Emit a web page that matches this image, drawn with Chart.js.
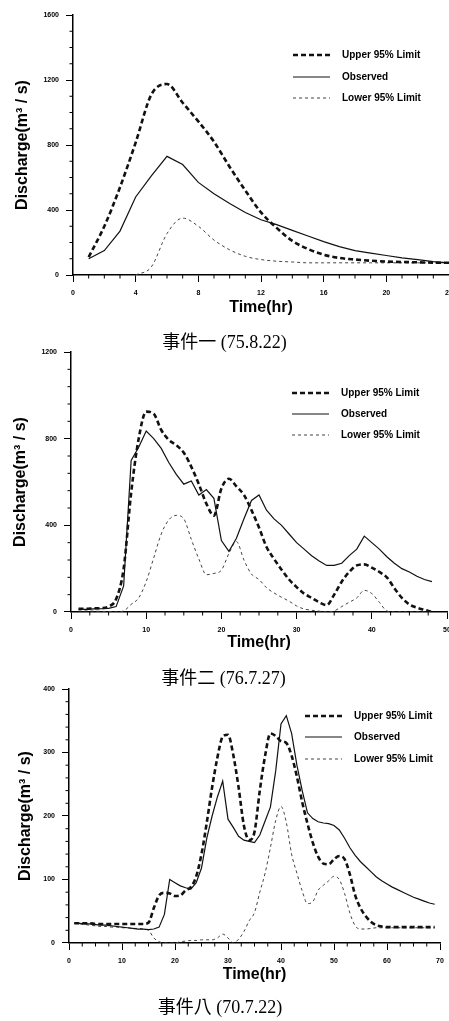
<!DOCTYPE html>
<html>
<head>
<meta charset="utf-8">
<script src="https://cdn.jsdelivr.net/npm/chart.js@4.4.0/dist/chart.umd.min.js"></script>
<style>
  html, body { margin: 0; padding: 0; background: #fff; width: 449px; height: 1021px; overflow: hidden; }
  canvas { position: absolute; left: 0; }
</style>
</head>
<body>
<canvas id="c1"></canvas>
<canvas id="c2"></canvas>
<canvas id="c3"></canvas>
<script>
// event 1 (75.8.22)
const hours1 = [1, 2, 3, 4, 5, 6, 7, 8, 9, 10, 11, 12, 13, 14, 15, 16, 17, 18, 19, 20, 21, 22, 23, 24];
const upper1 = [110, 300, 540, 815, 1110, 1175, 1060, 945, 820, 665, 520, 385, 290, 210, 160, 125, 105, 95, 88, 83, 80, 78, 76, 75];
const obs1 = [100, 150, 270, 480, 610, 730, 680, 570, 500, 440, 385, 340, 310, 275, 240, 205, 175, 150, 135, 120, 105, 95, 82, 75];
const lower1 = [null, null, null, 0, 50, 255, 350, 300, 215, 155, 115, 95, 85, 80, 75, 75, 75, 75, 75, 75, 75, 75, 75, 75];

// event 2 (76.7.27)
const hours2 = [1, 2, 3, 4, 5, 6, 7, 8, 9, 10, 11, 12, 13, 14, 15, 16, 17, 18, 19, 20, 21, 22, 23, 24,
  25, 26, 27, 28, 29, 30, 31, 32, 33, 34, 35, 36, 37, 38, 39, 40, 41, 42, 43, 44, 45, 46, 47, 48];
const upper2 = [15, 15, 17, 18, 25, 60, 200, 550, 800, 925, 915, 840, 795, 770, 735, 670, 590, 500, 445, 570, 615, 580, 540, 470,
  390, 300, 245, 195, 150, 115, 85, 65, 45, 32, 80, 140, 185, 215, 220, 205, 185, 160, 110, 65, 35, 20, 10, 0];
const obs2 = [12, 12, 14, 15, 17, 25, 120, 700, 760, 835, 800, 755, 690, 635, 590, 605, 540, 565, 525, 330, 280, 340, 430, 515,
  540, 470, 430, 400, 360, 320, 290, 260, 235, 215, 215, 225, 260, 290, 350, 320, 290, 255, 225, 200, 185, 165, 150, 140];
const lower2 = [5, 5, 4, 3, 2, 0, 5, 35, 65, 140, 250, 360, 425, 446, 430, 335, 245, 172, 178, 193, 270, 325, 240, 175,
  150, 112, 88, 68, 50, 28, 14, 8, 4, 0, 5, 25, 45, 65, 100, 85, 45, 5, 0, 0, 0, 0, 0, 0];

// event 8 (70.7.22)
const hours3 = [1, 2, 3, 4, 5, 6, 7, 8, 9, 10, 11, 12, 13, 14, 15, 16, 17, 18, 19, 20, 21, 22, 23, 24, 25, 26, 27, 28, 29, 30,
  31, 32, 33, 34, 35, 36, 37, 38, 39, 40, 41, 42, 43, 44, 45, 46, 47, 48, 49, 50, 51, 52, 53, 54, 55, 56, 57, 58, 59, 60,
  61, 62, 63, 64, 65, 66, 67, 68, 69];
const upper3 = [31, 31, 31, 31, 30, 30, 30, 30, 30, 30, 30, 30, 30, 30, 32, 55, 75, 79, 78, 74, 75, 83, 88, 105, 140, 190, 245, 292, 325, 328,
  296, 245, 185, 162, 175, 240, 295, 330, 326, 318, 315, 295, 262, 222, 188, 158, 136, 125, 124, 132, 137, 132, 108, 75, 55, 42, 33, 28, 26, 25,
  25, 25, 25, 25, 25, 25, 25, 25, 25];
const obs3 = [31, 31, 30, 30, 29, 28, 28, 27, 26, 25, 24, 23, 22, 22, 21, 22, 25, 45, 100, 95, 90, 87, 85, 95, 118, 165, 200, 230, 255, 195,
  182, 168, 162, 160, 158, 170, 192, 214, 271, 345, 358, 330, 280, 240, 205, 196, 191, 189, 188, 185, 178, 165, 150, 138, 128, 120, 112, 104, 98, 93,
  88, 84, 80, 76, 72, 69, 66, 63, 61];
const lower3 = [31, 30, 29, 28, 27, 26, 26, 25, 25, 24, 24, 23, 23, 22, 20, 8, 2, 0, 0, 0, 2, 3, 4, 4, 5, 5, 5, 8, 14, 8,
  0, 6, 18, 35, 48, 80, 110, 150, 193, 215, 190, 140, 110, 82, 62, 65, 83, 91, 98, 105, 100, 78, 47, 27, 22, 22, 23, 24, 24, 24,
  24, 24, 24, 24, 24, 24, 24, 24, 24];

const seriesNames = ['Upper 95% Limit', 'Observed', 'Lower 95% Limit'];

Chart.defaults.font.family = '"Liberation Sans", Arial, sans-serif';
Chart.defaults.color = '#000';

// legend drawn inside the plot, a short line sample then the name
const hydroLegend = {
  id: 'hydroLegend',
  afterDatasetsDraw(chart, args, opts) {
    const {ctx, chartArea} = chart;
    const x = chartArea.right - opts.right;
    ctx.save();
    ctx.font = 'bold 10px "Liberation Sans", Arial, sans-serif';
    ctx.textBaseline = 'middle';
    chart.data.datasets.forEach((ds, i) => {
      const y = chartArea.top + opts.rows[i];
      ctx.strokeStyle = ds.borderColor;
      ctx.lineWidth = ds.borderWidth;
      ctx.setLineDash(ds.borderDash || []);
      ctx.beginPath();
      ctx.moveTo(x, y);
      ctx.lineTo(x + 37, y);
      ctx.stroke();
      ctx.setLineDash([]);
      ctx.fillStyle = '#000';
      ctx.fillText(ds.label, x + 49, y);
    });
    ctx.restore();
  }
};

// short ticks for the unlabelled steps (the labelled ones use the longer grid ticks)
const minorTicks = {
  id: 'minorTicks',
  afterDraw(chart) {
    const {ctx} = chart;
    const xs = chart.scales.x, ys = chart.scales.y;
    ctx.save();
    ctx.strokeStyle = '#000';
    ctx.lineWidth = 1;
    ctx.beginPath();
    xs.ticks.forEach(t => {
      if (t.label === '') {
        const px = xs.getPixelForValue(t.value);
        ctx.moveTo(px, xs.top);
        ctx.lineTo(px, xs.top + 3.5);
      }
    });
    ys.ticks.forEach(t => {
      if (t.label === '') {
        const py = ys.getPixelForValue(t.value);
        ctx.moveTo(ys.right, py);
        ctx.lineTo(ys.right - 3.5, py);
      }
    });
    ctx.stroke();
    ctx.restore();
  }
};

const majorOnly = c => (c.tick && c.tick.label === '' ? 'rgba(0,0,0,0)' : '#000');

function drawHydrograph(id, box, axes, caption, hours, upper, obs, lower) {
  const W = 460;
  const canvas = document.getElementById(id);
  const H = Math.round(box.caption + 15 - box.top);
  canvas.width = W;
  canvas.height = H;
  canvas.style.top = box.top + 'px';

  const xAxisH = box.xTitle + 9.6 - box.bottom;
  const capPad = box.caption - (box.xTitle + 9.6) - 10.8;
  const padBottom = H - (box.caption + 10.8 - box.top);

  new Chart(canvas, {
    type: 'line',
    data: {
      labels: hours,
      datasets: [{
        label: seriesNames[0],
        data: upper,
        borderColor: '#111',
        borderWidth: 2.6,
        borderDash: [5, 3],
        pointRadius: 0,
        cubicInterpolationMode: 'monotone'
      }, {
        label: seriesNames[1],
        data: obs,
        borderColor: '#111',
        borderWidth: 1.2,
        pointRadius: 0,
        tension: 0
      }, {
        label: seriesNames[2],
        data: lower,
        borderColor: '#444',
        borderWidth: 1,
        borderDash: [3, 3],
        pointRadius: 0,
        cubicInterpolationMode: 'monotone'
      }]
    },
    options: {
      responsive: false,
      animation: false,
      layout: {
        padding: { top: box.plotTop - box.top, left: 0, right: W - box.right, bottom: padBottom }
      },
      plugins: {
        legend: { display: false },
        tooltip: { enabled: false },
        title: {
          display: true,
          position: 'bottom',
          text: caption,
          color: '#000',
          font: { family: '"Liberation Serif", "Noto Sans CJK TC", serif', size: 18, weight: 'normal' },
          padding: { top: capPad, bottom: 0 }
        },
        hydroLegend: box.legend
      },
      scales: {
        x: {
          type: 'linear',
          min: 0,
          max: axes.xMax,
          afterFit: s => { s.height = xAxisH; },
          ticks: {
            stepSize: axes.xMinor,
            maxTicksLimit: 1000,
            autoSkip: false,
            maxRotation: 0,
            padding: 7,
            font: { size: 7, weight: 'bold' },
            callback: v => (v % axes.xMajor === 0 ? String(v) : '')
          },
          grid: { drawOnChartArea: false, tickLength: 7, tickColor: majorOnly },
          border: { color: '#000', width: 1.5 },
          title: { display: true, text: 'Time(hr)', font: { size: 16, weight: 'bold' }, padding: 0 }
        },
        y: {
          min: 0,
          max: axes.yMax,
          afterFit: s => { s.width = box.left; },
          ticks: {
            stepSize: axes.yMinor,
            maxTicksLimit: 1000,
            autoSkip: false,
            padding: 7,
            font: { size: 7, weight: 'bold' },
            callback: v => (v % axes.yMajor === 0 ? String(v) : '')
          },
          grid: { drawOnChartArea: false, tickLength: 7, tickColor: majorOnly },
          border: { color: '#000', width: 1.5 },
          title: {
            display: true,
            text: 'Discharge(m³ / s)',
            font: { size: 16, weight: 'bold' },
            padding: { top: box.yTitle - 9.6, bottom: 0 }
          }
        }
      }
    },
    plugins: [hydroLegend, minorTicks]
  });
}

drawHydrograph('c1',
  { top: 0, plotTop: 15, bottom: 275, left: 73, right: 449, yTitle: 23, xTitle: 308, caption: 343,
    legend: { right: 156, rows: [40, 62, 83] } },
  { xMax: 24, xMinor: 1, xMajor: 4, yMax: 1600, yMinor: 100, yMajor: 400 },
  '事件一 (75.8.22)', hours1, upper1, obs1, lower1);

drawHydrograph('c2',
  { top: 340, plotTop: 352, bottom: 612, left: 71, right: 447, yTitle: 21, xTitle: 643, caption: 679,
    legend: { right: 155, rows: [41, 62, 83] } },
  { xMax: 50, xMinor: 2.5, xMajor: 10, yMax: 1200, yMinor: 80, yMajor: 400 },
  '事件二 (76.7.27)', hours2, upper2, obs2, lower2);

drawHydrograph('c3',
  { top: 675, plotTop: 689, bottom: 943, left: 69, right: 440, yTitle: 26, xTitle: 975, caption: 1008,
    legend: { right: 135, rows: [27, 48, 70] } },
  { xMax: 70, xMinor: 2.5, xMajor: 10, yMax: 400, yMinor: 20, yMajor: 100 },
  '事件八 (70.7.22)', hours3, upper3, obs3, lower3);
</script>
</body>
</html>
